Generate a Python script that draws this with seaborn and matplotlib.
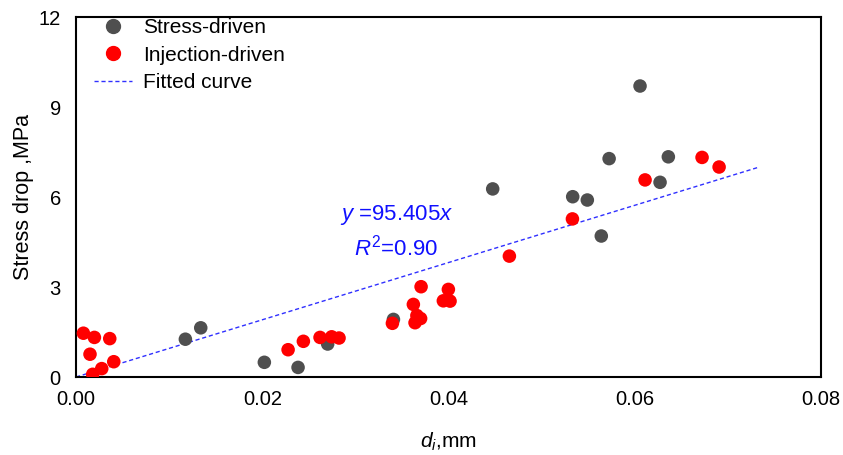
import numpy as np
import pandas as pd
import matplotlib
matplotlib.use("Agg")
import matplotlib.pyplot as plt
from matplotlib.ticker import MultipleLocator, FixedLocator
from matplotlib.lines import Line2D
import seaborn as sns

# Stress-driven events: displacement d_i (mm) vs stress drop (MPa)
stress_d = [0.01174, 0.01339, 0.02022, 0.02384, 0.02702, 0.03408, 0.04474,
            0.05333, 0.05490, 0.05640, 0.05724, 0.06056, 0.06271, 0.06360]
stress_drop = [1.26, 1.64, 0.49, 0.32, 1.10, 1.92, 6.27,
               6.01, 5.90, 4.70, 7.28, 9.70, 6.49, 7.34]

# Injection-driven events
inject_d = [0.00079, 0.00197, 0.00362, 0.00150, 0.00405, 0.00276, 0.00179,
            0.02277, 0.02441, 0.02620, 0.02745, 0.02824,
            0.03397, 0.03705, 0.03622, 0.03640, 0.03660, 0.03700,
            0.03998, 0.03944, 0.04016, 0.04653, 0.05330,
            0.06110, 0.06722, 0.06905]
inject_drop = [1.46, 1.32, 1.28, 0.76, 0.51, 0.28, 0.09,
               0.91, 1.19, 1.32, 1.34, 1.30,
               1.79, 3.01, 2.42, 1.81, 2.05, 1.95,
               2.92, 2.54, 2.53, 4.03, 5.27,
               6.57, 7.32, 7.00]

slope = 95.405
fit_x = [0.0, 0.0732]

x_ticks = [0.00, 0.02, 0.04, 0.06, 0.08]
x_tick_labels = ["0.00", "0.02", "0.04", "0.06", "0.08"]
y_ticks = [0, 3, 6, 9, 12]
y_tick_labels = ["0", "3", "6", "9", "12"]

groups = ["Stress-driven", "Injection-driven"]
df = pd.DataFrame({
    "d": stress_d + inject_d,
    "drop": stress_drop + inject_drop,
    "group": [groups[0]] * len(stress_d) + [groups[1]] * len(inject_d),
})

sns.set_style("white")
plt.rcParams["font.family"] = ["Liberation Sans", "DejaVu Sans"]
plt.rcParams["mathtext.fontset"] = "custom"
plt.rcParams["mathtext.rm"] = "Liberation Sans"
plt.rcParams["mathtext.it"] = "Liberation Sans:italic"
plt.rcParams["text.color"] = "black"
plt.rcParams["axes.labelcolor"] = "black"

palette = {groups[0]: "#4f4f4f", groups[1]: "#ff0000"}
fit_color = "#3030ff"

fig = plt.figure(figsize=(8.43, 4.55), dpi=100)
ax = fig.add_axes([0.0902, 0.1714, 0.8838, 0.7912])

sns.scatterplot(data=df, x="d", y="drop", hue="group", palette=palette,
                hue_order=groups, s=95, edgecolor="none", linewidth=0,
                legend=False, ax=ax, zorder=3)

fx = np.array(fit_x)
ax.plot(fx, slope * fx, linestyle=(0, (3, 2)), color=fit_color,
        linewidth=1.0, zorder=2)

ax.set_xlim(0, 0.08)
ax.set_ylim(0, 12)
ax.xaxis.set_major_locator(FixedLocator(x_ticks))
ax.set_xticklabels(x_tick_labels)
ax.yaxis.set_major_locator(FixedLocator(y_ticks))
ax.set_yticklabels(y_tick_labels)
ax.xaxis.set_minor_locator(MultipleLocator(0.01))
ax.yaxis.set_minor_locator(MultipleLocator(1.5))
ax.tick_params(which="both", direction="in", top=False, right=False,
               colors="black", labelsize=14.5, width=1.3)
ax.tick_params(which="major", length=6)
ax.tick_params(which="minor", length=3.5)
ax.tick_params(axis="x", which="major", pad=9)
ax.tick_params(axis="y", which="major", pad=11)
for sp in ax.spines.values():
    sp.set_color("black")
    sp.set_linewidth(1.5)

ax.set_xlabel("$d_i$,mm", fontsize=15, labelpad=16)
ax.set_ylabel("Stress drop ,MPa", fontsize=15.5, labelpad=3)

ax.text(0.0344, 5.4, "$y$ =95.405$x$", color="#1010ff", fontsize=16,
        ha="center", va="center")
ax.text(0.0344, 4.33, "$R^2$=0.90", color="#1010ff", fontsize=16,
        ha="center", va="center")

handles = [
    Line2D([], [], marker="o", linestyle="none", color=palette[groups[0]],
           markersize=10),
    Line2D([], [], marker="o", linestyle="none", color=palette[groups[1]],
           markersize=10),
    Line2D([], [], linestyle=(0, (3, 2)), color=fit_color, linewidth=1.0),
]
ax.legend(handles, groups + ["Fitted curve"], loc="upper left",
          frameon=False, fontsize=15, handlelength=1.85, handletextpad=0.5,
          labelspacing=0.4, borderpad=0, borderaxespad=0,
          bbox_to_anchor=(0.024, 0.996))

fig.savefig("out.png", dpi=100)
